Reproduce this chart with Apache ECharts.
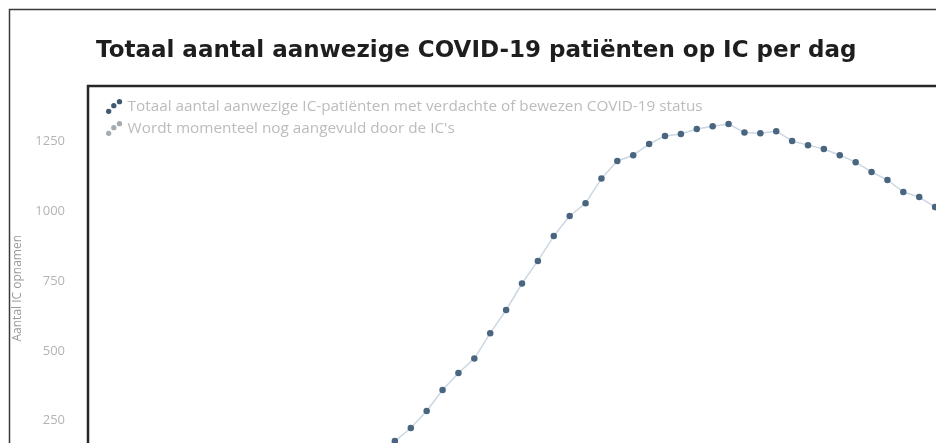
<!DOCTYPE html>
<html>
<head>
<meta charset="utf-8">
<script src="https://cdn.jsdelivr.net/npm/echarts@6/dist/echarts.min.js"></script>
<style>
  html, body { margin: 0; padding: 0; background: #fff; }
  #chart { width: 936px; height: 443px; }
</style>
</head>
<body>
<div id="chart"></div>
<script>
// dagen (27 feb t/m 21 apr 2020)
const dagen = [
  '27 feb', '28 feb', '29 feb',
  '1 mrt', '2 mrt', '3 mrt', '4 mrt', '5 mrt', '6 mrt', '7 mrt', '8 mrt', '9 mrt', '10 mrt',
  '11 mrt', '12 mrt', '13 mrt', '14 mrt', '15 mrt', '16 mrt', '17 mrt', '18 mrt', '19 mrt', '20 mrt',
  '21 mrt', '22 mrt', '23 mrt', '24 mrt', '25 mrt', '26 mrt', '27 mrt', '28 mrt', '29 mrt', '30 mrt', '31 mrt',
  '1 apr', '2 apr', '3 apr', '4 apr', '5 apr', '6 apr', '7 apr', '8 apr', '9 apr', '10 apr',
  '11 apr', '12 apr', '13 apr', '14 apr', '15 apr', '16 apr', '17 apr', '18 apr', '19 apr', '20 apr', '21 apr'
]

// totaal aanwezig op IC (bevestigd of verdacht)
const aanwezig = [
  0, 1, 1,
  2, 3, 4, 6, 8, 11, 15, 20, 27, 36,
  47, 60, 78, 98, 120, 146, 177, 224, 285, 360,
  421, 473, 564, 647, 742, 823, 912, 984, 1030, 1118, 1181,
  1202, 1242, 1271, 1278, 1296, 1306, 1314, 1283, 1281, 1288,
  1253, 1238, 1224, 1202, 1177, 1142, 1113, 1070, 1052, 1016, null
]

// laatste dagen, nog niet compleet
const aangevuld = [
  null, null, null,
  null, null, null, null, null, null, null, null, null, null,
  null, null, null, null, null, null, null, null, null, null,
  null, null, null, null, null, null, null, null, null, null, null,
  null, null, null, null, null, null, null, null, null, null,
  null, null, null, null, null, null, null, null, null, 1016, 990
]

const yTicks = { min: 0, max: 1450, interval: 250 }

const dotsIcon = 'path://M0,12a2.6,2.6 0 1,0 5.2,0a2.6,2.6 0 1,0 -5.2,0M5,6.5a2.6,2.6 0 1,0 5.2,0a2.6,2.6 0 1,0 -5.2,0M10.5,2.6a2.6,2.6 0 1,0 5.2,0a2.6,2.6 0 1,0 -5.2,0'

const dom = echarts.init(document.getElementById('chart'))
const option = {
  backgroundColor: '#fff',
  animation: false,
  title: {
    text: 'Totaal aantal aanwezige COVID-19 patiënten op IC per dag',
    left: 91,
    top: 35,
    textStyle: {
      fontFamily: 'DejaVu Sans',
      fontWeight: 'bold',
      fontSize: 23,
      color: '#1e1e1e'
    }
  },
  legend: {
    orient: 'vertical',
    left: 101,
    top: 94,
    itemWidth: 17,
    itemHeight: 15,
    itemGap: 7,
    selectedMode: false,
    textStyle: {
      fontFamily: 'Open Sans',
      fontSize: 15.3,
      color: '#bcbcbc'
    },
    data: [
      { name: 'Totaal aantal aanwezige IC-patiënten met verdachte of bewezen COVID-19 status', icon: dotsIcon, itemStyle: { color: '#3f5973' } },
      { name: "Wordt momenteel nog aangevuld door de IC's", icon: dotsIcon, itemStyle: { color: '#a3abb3' } }
    ]
  },
  graphic: [
    {
      type: 'rect',
      shape: { x: 9.5, y: 9.5, width: 950, height: 460 },
      style: { fill: null, stroke: '#3a3a3a', lineWidth: 1.5 },
      silent: true
    },
    {
      type: 'rect',
      shape: { x: 88, y: 86, width: 870, height: 400 },
      style: { fill: null, stroke: '#262626', lineWidth: 2.5 },
      silent: true
    }
  ],
  grid: {
    left: 93,
    top: 86,
    width: 858,
    height: 404.5,
    outerBoundsMode: 'none'
  },
  xAxis: {
    type: 'category',
    boundaryGap: false,
    data: dagen,
    axisLine: { show: false },
    axisTick: { show: false },
    axisLabel: { show: false },
    splitLine: { show: false }
  },
  yAxis: {
    type: 'value',
    min: yTicks.min,
    max: yTicks.max,
    interval: yTicks.interval,
    name: 'Aantal IC opnamen',
    nameLocation: 'middle',
    nameGap: 69,
    nameTextStyle: {
      fontFamily: 'Open Sans',
      fontSize: 12,
      color: '#9a9a9a'
    },
    axisLine: { show: false },
    axisTick: { show: false },
    splitLine: { show: false },
    axisLabel: {
      margin: 28,
      showMaxLabel: false,
      formatter: v => String(v),
      fontFamily: 'Open Sans',
      fontSize: 13,
      color: '#b4b4b4'
    }
  },
  series: [
    {
      name: "Wordt momenteel nog aangevuld door de IC's",
      type: 'line',
      data: aangevuld,
      symbol: 'circle',
      symbolSize: 6.5,
      showAllSymbol: true,
      lineStyle: { color: '#d9dde2', width: 1.5 },
      itemStyle: { color: '#a3abb3' }
    },
    {
      name: 'Totaal aantal aanwezige IC-patiënten met verdachte of bewezen COVID-19 status',
      type: 'line',
      data: aanwezig,
      symbol: 'circle',
      symbolSize: 6.5,
      showAllSymbol: true,
      lineStyle: { color: '#cbd7e3', width: 1.5 },
      itemStyle: { color: '#4a6580' }
    }
  ]
}
dom.setOption(option)
</script>
</body>
</html>
